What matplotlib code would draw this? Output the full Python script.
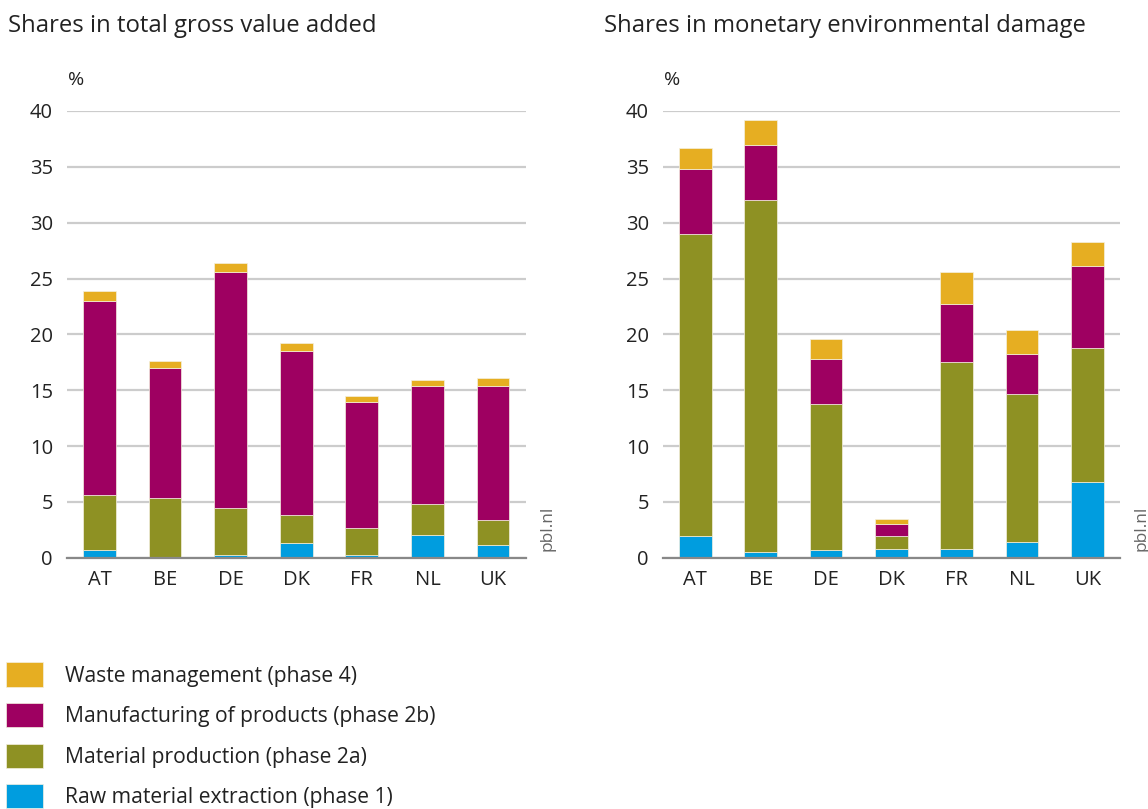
import numpy as np
import matplotlib
matplotlib.use("Agg")
import matplotlib.pyplot as plt

plt.rcParams['font.family'] = ['Open Sans', 'DejaVu Sans']

countries = ['AT', 'BE', 'DE', 'DK', 'FR', 'NL', 'UK']
phases = ['Raw material extraction (phase 1)',
          'Material production (phase 2a)',
          'Manufacturing of products (phase 2b)',
          'Waste management (phase 4)']
colours = ['#009DDF', '#8E9123', '#9E0061', '#E6AE22']

# shares in total gross value added (%)
gva_raw = [0.65, 0.0, 0.2, 1.35, 0.2, 2.0, 1.1]
gva_material = [5.0, 5.35, 4.25, 2.45, 2.5, 2.85, 2.25]
gva_manuf = [17.35, 11.6, 21.1, 14.75, 11.2, 10.5, 12.0]
gva_waste = [0.9, 0.7, 0.85, 0.7, 0.6, 0.55, 0.75]

# shares in monetary environmental damage (%)
dmg_raw = [1.95, 0.55, 0.7, 0.8, 0.75, 1.45, 6.75]
dmg_material = [27.0, 31.5, 13.1, 1.15, 16.8, 13.2, 12.0]
dmg_manuf = [5.85, 4.9, 4.0, 1.05, 5.2, 3.6, 7.35]
dmg_waste = [1.9, 2.2, 1.8, 0.45, 2.85, 2.15, 2.15]

yticks = [0, 5, 10, 15, 20, 25, 30, 35, 40]


def draw_panel(ax, series):
    x = np.arange(len(countries))
    bottom = np.zeros(len(countries))
    bars = []
    for vals, col, lab in zip(series, colours, phases):
        b = ax.bar(x, vals, 0.5, bottom=bottom, color=col, label=lab,
                   edgecolor='#f4f0e0', linewidth=0.5, zorder=3)
        bars.append(b)
        bottom = bottom + np.array(vals)
    ax.set_xlim(-0.5, 6.5)
    ax.set_ylim(0, 40)
    ax.set_yticks(yticks)
    ax.set_xticks(x)
    ax.set_xticklabels(countries)
    ax.grid(axis='y', color='#cccccc', linewidth=1.6, zorder=0)
    for s in ['top', 'right', 'left']:
        ax.spines[s].set_visible(False)
    ax.spines['bottom'].set_color('#888888')
    ax.spines['bottom'].set_linewidth(1.6)
    ax.spines['bottom'].set_zorder(4)
    ax.tick_params(axis='both', length=0, labelsize=14.5, colors='#222222')
    ax.tick_params(axis='y', pad=10)
    ax.tick_params(axis='x', pad=9)
    ax.text(0.003, 1.07, '%', transform=ax.transAxes, fontsize=14,
            color='#222222', va='center', ha='left')
    ax.text(1.047, 0.015, 'pbl.nl', transform=ax.transAxes, rotation=90,
            fontsize=12.5, color='#666666', ha='center', va='bottom')
    return bars


fig = plt.figure(figsize=(11.48, 8.09), dpi=100)
ax1 = fig.add_axes([0.0581, 0.3106, 0.4, 0.5522])
ax2 = fig.add_axes([0.5773, 0.3106, 0.3983, 0.5522])

bars = draw_panel(ax1, [gva_raw, gva_material, gva_manuf, gva_waste])
draw_panel(ax2, [dmg_raw, dmg_material, dmg_manuf, dmg_waste])

fig.text(0.007, 0.968, 'Shares in total gross value added', fontsize=17.2,
         color='#222222', va='center', ha='left')
fig.text(0.526, 0.968, 'Shares in monetary environmental damage', fontsize=17.2,
         color='#222222', va='center', ha='left')

fig.legend(handles=bars[::-1], labels=phases[::-1], loc='upper left',
           bbox_to_anchor=(0.0, 0.189), frameon=False, fontsize=15.2,
           handlelength=1.76, handleheight=1.38, handletextpad=1.0,
           labelspacing=0.78, borderaxespad=0, borderpad=0.3,
           labelcolor='#222222')

fig.savefig('out.png', dpi=100)
